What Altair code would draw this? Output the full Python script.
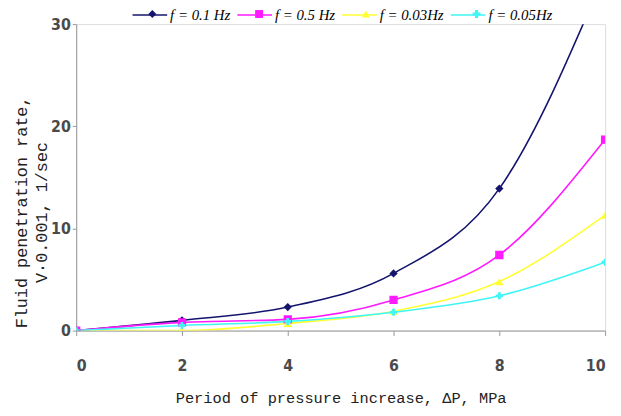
import altair as alt
import pandas as pd

x_vals = [0, 2, 4, 6, 8, 10]
series_names = ["f = 0.1 Hz", "f = 0.5 Hz", "f = 0.03Hz", "f = 0.05Hz"]
y_f01 = [0.0, 1.0, 2.3, 5.6, 13.9, 35.0]
y_f05 = [0.0, 0.8, 1.1, 3.0, 7.4, 18.7]
y_f003 = [0.0, 0.0, 0.7, 1.9, 4.8, 11.3]
y_f005 = [0.0, 0.5, 0.9, 1.8, 3.4, 6.7]
colors = ["#14146e", "#ff1aff", "#ffff33", "#40f5f5"]
marker_shapes = ["diamond", "square", "triangle-up", "cross"]

rows = []
for name, ys in zip(series_names, [y_f01, y_f05, y_f003, y_f005]):
    for x, y in zip(x_vals, ys):
        rows.append({"x": x, "y": y, "series": name, "legend_f": name})
df = pd.DataFrame(rows)

tick_font = "DejaVu Sans Condensed"
xenc = alt.X("x:Q", scale=alt.Scale(domain=[0, 10]),
             axis=alt.Axis(values=[0, 2, 4, 6, 8, 10], title="Period of pressure increase, ΔP, MPa",
                           labelFont=tick_font, labelFontWeight="bold", labelFontSize=16,
                           labelColor="#4a4a4a", labelPadding=22, tickSize=5,
                           titleFont="Liberation Mono", titleFontWeight="normal", titleFontSize=15.5,
                           titleColor="#222", titlePadding=18, grid=False, domainColor="#999", tickColor="#999"))
yenc = alt.Y("y:Q", scale=alt.Scale(domain=[0, 30], nice=False),
             axis=alt.Axis(values=[0, 10, 20, 30], title=["Fluid penetration rate,", "V·0.001, 1/sec"],
                           labelFont=tick_font, labelFontWeight="bold", labelFontSize=16,
                           labelColor="#4a4a4a", labelPadding=2, tickSize=4,
                           titleFont="Liberation Mono", titleFontWeight="normal", titleFontSize=17,
                           titleLineHeight=20, titleX=-55, titleY=190, titleAngle=-90,
                           titleAlign="center", titleBaseline="middle",
                           titleColor="#222", grid=False, domainColor="#999", tickColor="#999"))

common_leg = dict(title=None, orient="none", direction="horizontal",
                  labelFont="Liberation Serif", labelFontStyle="italic", labelFontWeight="normal",
                  labelFontSize=15, labelColor="#000", columnPadding=3)

base = alt.Chart(df)
lines = base.mark_line(interpolate="monotone", strokeWidth=1.6, clip=True).encode(
    x=xenc, y=yenc,
    color=alt.Color("series:N", scale=alt.Scale(domain=series_names, range=colors),
                    legend=alt.Legend(legendX=56, legendY=-28, symbolType="stroke", symbolSize=1225,
                                      symbolStrokeWidth=1.6, labelOffset=2, **common_leg)),
    detail="series:N",
)

point_layers = []
for name, col, shp in zip(series_names, colors, marker_shapes):
    point_layers.append(
        base.transform_filter(alt.datum.series == name)
        .mark_point(filled=True, size=70 if shp != "cross" else 50, opacity=1, shape=shp, color=col, clip=True)
        .encode(x="x:Q", y="y:Q")
    )

legB = alt.Legend(legendX=69.5, legendY=-18, symbolSize=64, labelOffset=29, labelOpacity=0, **common_leg)
legend_layer = base.mark_point(filled=True, size=64, opacity=1, clip=True).encode(
    x="x:Q", y=alt.value(-300),
    color=alt.Color("legend_f:N", scale=alt.Scale(domain=series_names, range=colors), legend=legB),
    shape=alt.Shape("legend_f:N", scale=alt.Scale(domain=series_names, range=marker_shapes), legend=legB),
)

chart = alt.layer(lines, *point_layers, legend_layer).resolve_scale(
    color="independent", shape="independent"
).properties(
    width=535, height=310, autosize="none",
    padding={"left": 69, "top": 14, "right": 8, "bottom": 76},
).configure_view(stroke=None).configure(background="white")

chart.save("out.html", embed_options={"renderer": "svg", "actions": False})
